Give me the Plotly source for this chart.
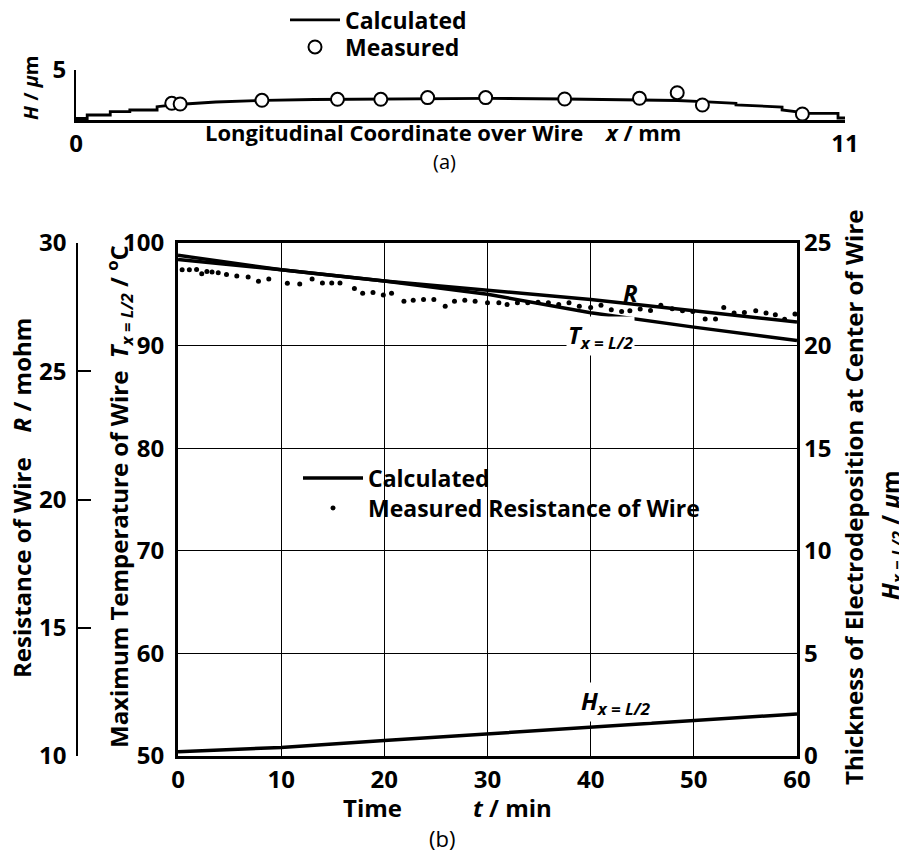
import plotly.graph_objects as go

W, HH = 899, 853


def px(x):
    return x / W


def py(y):
    return 1 - y / HH


FONT = "Open Sans"

# ---------------- panel (a) data ----------------
a_calc_x = [0, 0.16, 0.16, 0.49, 0.49, 0.77, 0.77, 1.16, 1.16, 1.45, 2.0, 2.7, 3.4, 4.4,
            5.0, 5.9, 7.0, 8.0, 8.6, 8.96, 9.2, 9.44, 9.44, 10.1, 10.1, 10.49, 10.9, 10.9, 11]
a_calc_h = [0.15, 0.15, 0.5, 0.5, 0.83, 0.83, 1.0, 1.0, 1.33, 1.55, 1.8, 1.97, 2.05, 2.1,
            2.17, 2.17, 2.1, 2.05, 1.95, 1.83, 1.75, 1.67, 1.5, 1.3, 1.0, 0.67, 0.67, 0.2, 0.2]
a_meas_x = [1.37, 1.49, 2.66, 3.74, 4.36, 5.03, 5.86, 6.99, 8.06, 8.6, 8.96, 10.39]
a_meas_h = [1.67, 1.6, 1.97, 2.07, 2.07, 2.24, 2.24, 2.1, 2.17, 2.73, 1.5, 0.6]

# ---------------- panel (b) data ----------------
t_calc = [0, 10, 20, 30, 40, 50, 60]
T_calc = [98.8, 97.4, 96.3, 95.0, 93.2, 91.8, 90.5]          # deg C
R_calc = [29.36, 28.96, 28.52, 28.16, 27.8, 27.36, 26.92]     # mohm
H_calc = [0.21, 0.42, 0.75, 1.07, 1.38, 1.70, 2.05]           # um

t_meas = [0.4, 1.1, 1.8, 2.3, 2.8, 3.3, 3.9, 4.7, 5.7, 6.8, 7.8, 8.8, 10.6, 11.8, 13.0,
          14.0, 14.9, 15.7, 17.1, 17.9, 18.9, 19.9, 20.7, 21.9, 22.8, 23.8, 24.8, 25.9,
          26.8, 27.8, 28.8, 30.0, 31.1, 31.9, 32.9, 33.9, 34.9, 35.9, 36.9, 37.9, 38.9,
          40.0, 41.0, 42.0, 43.0, 43.8, 44.8, 45.8, 46.8, 47.9, 48.9, 49.9, 51.1, 52.1,
          52.9, 53.9, 54.9, 56.0, 57.0, 57.9, 58.8, 59.8]
R_meas = [28.96, 28.96, 28.97, 28.8, 28.89, 28.87, 28.84, 28.77, 28.71, 28.67, 28.51,
          28.6, 28.43, 28.4, 28.6, 28.44, 28.44, 28.44, 28.23, 28.04, 28.07, 27.97, 28.04,
          27.73, 27.77, 27.8, 27.8, 27.53, 27.73, 27.77, 27.73, 27.67, 27.67, 27.6, 27.67,
          27.67, 27.69, 27.67, 27.6, 27.67, 27.53, 27.49, 27.57, 27.4, 27.33, 27.36, 27.43,
          27.37, 27.57, 27.44, 27.36, 27.33, 27.04, 27.04, 27.49, 27.27, 27.29, 27.36,
          27.27, 27.2, 27.03, 27.23]

b_xticks = [0, 10, 20, 30, 40, 50, 60]
T_ticks = [50, 60, 70, 80, 90, 100]
R_ticks = [10, 15, 20, 25, 30]
H_ticks = [0, 5, 10, 15, 20, 25]

FS = 24

fig = go.Figure()

# (a)
fig.add_trace(go.Scatter(x=a_calc_x, y=a_calc_h, mode="lines", name="Calculated",
                         line=dict(color="black", width=2.8), xaxis="x2", yaxis="y2",
                         legend="legend"))
fig.add_trace(go.Scatter(x=a_meas_x, y=a_meas_h, mode="markers", name="Measured",
                         marker=dict(symbol="circle", size=13, color="white",
                                     line=dict(color="black", width=2)),
                         xaxis="x2", yaxis="y2", legend="legend3"))

# (b)
fig.add_trace(go.Scatter(x=t_calc, y=R_calc, mode="lines", name="Calculated",
                         line=dict(color="black", width=3.5), xaxis="x", yaxis="y3",
                         legend="legend2"))
fig.add_trace(go.Scatter(x=t_calc, y=T_calc, mode="lines", name="Calculated",
                         line=dict(color="black", width=3.5), xaxis="x", yaxis="y",
                         showlegend=False))
fig.add_trace(go.Scatter(x=t_calc, y=H_calc, mode="lines", name="Calculated",
                         line=dict(color="black", width=3.5), xaxis="x", yaxis="y4",
                         showlegend=False))
fig.add_trace(go.Scatter(x=t_meas, y=R_meas, mode="markers",
                         name="Measured Resistance of Wire",
                         marker=dict(symbol="circle", size=5, color="black"),
                         xaxis="x", yaxis="y3", legend="legend4"))

bfont = dict(family=FONT, size=FS, color="black", weight="bold")
lfont = dict(family=FONT, size=FS - 1, color="black", weight="bold")


def leg(x, y, itemwidth=30):
    return dict(x=px(x), y=py(y), xanchor="left", yanchor="middle", font=lfont,
                bgcolor="rgba(0,0,0,0)", tracegroupgap=0, itemwidth=itemwidth,
                borderwidth=0)


fig.update_layout(
    width=W, height=HH, margin=dict(l=0, r=0, t=0, b=0, autoexpand=False),
    paper_bgcolor="white", plot_bgcolor="rgba(0,0,0,0)",
    font=dict(family=FONT, color="black"),
    showlegend=True,
    # panel (b) axes
    xaxis=dict(domain=[px(178), px(797)], range=[0, 60], tickvals=b_xticks,
               showgrid=True, gridcolor="black", gridwidth=1.2, zeroline=False,
               showline=True, linecolor="black", linewidth=3, mirror=True,
               ticks="", tickfont=bfont, anchor="y", automargin=False),
    yaxis=dict(domain=[py(756), py(243)], range=[50, 100], tickvals=T_ticks,
               showgrid=True, gridcolor="black", gridwidth=1.2, zeroline=False,
               showline=True, linecolor="black", linewidth=3, mirror=True,
               ticks="", tickfont=bfont, anchor="x", automargin=False,
               ticklabelstandoff=6),
    yaxis3=dict(overlaying="y", side="left", anchor="free", position=px(77),
                range=[10, 30], tickvals=R_ticks, showgrid=False, zeroline=False,
                showline=True, linecolor="black", linewidth=1.5,
                ticks="inside", ticklen=13, tickwidth=1.5, tickcolor="black",
                tickfont=bfont, automargin=False, ticklabelstandoff=5),
    yaxis4=dict(overlaying="y", side="right", anchor="x", range=[0, 25],
                tickvals=H_ticks, showgrid=False, zeroline=False, showline=False,
                ticks="", tickfont=bfont, automargin=False, ticklabelstandoff=6),
    # panel (a) axes
    xaxis2=dict(domain=[px(76), px(845)], range=[0, 11], tickvals=[0, 11],
                showgrid=False, zeroline=False, showline=True, linecolor="black",
                linewidth=3, ticks="", tickfont=bfont, anchor="y2", automargin=False),
    yaxis2=dict(domain=[py(120), py(70)], range=[0, 5], tickvals=[5],
                showgrid=False, zeroline=False, showline=True, linecolor="black",
                linewidth=2, ticks="inside", ticklen=13, tickwidth=2, tickcolor="black",
                tickfont=bfont, anchor="x2", automargin=False, ticklabelstandoff=3),
    legend=leg(285, 20, 50),
    legend3=leg(285, 47, 50),
    legend2=leg(298, 478, 60),
    legend4=leg(298, 508, 60),
)

ann = []


def add_text(text, x, y, size=FS, angle=0, bold=True, bg=None, xref="paper", yref="paper"):
    d = dict(text=text, x=x, y=y, xref=xref, yref=yref, showarrow=False,
             xanchor="center", yanchor="middle", textangle=angle,
             font=dict(family=FONT, size=size, color="black",
                       weight="bold" if bold else "normal"))
    if bg:
        d["bgcolor"] = bg
    ann.append(d)


# panel (a) texts
add_text("Longitudinal Coordinate over Wire    <i>x</i> / mm", px(443), py(132), size=22)
add_text("(a)", px(444), py(161), size=20, bold=False)
add_text("<i>H</i> / <i>μ</i>m", px(31), py(88), size=20, angle=-90)

# panel (b) texts
add_text("Time", px(372), py(807))
add_text("<i>t</i> / min", px(512), py(807))
add_text("(b)", px(442), py(838), size=22, bold=False)
add_text("Resistance of Wire    <i>R</i> / mohm", px(21), py(498), angle=-90)
add_text("Maximum Temperature of Wire  <i>T</i><sub><i>x = L/2</i></sub> / <sup>o</sup>C",
         px(119), py(497), angle=-90)
add_text("Thickness of Electrodeposition at Center of Wire", px(853), py(497), angle=-90)
add_text("<i>H</i><sub><i>x = L/2</i></sub> / <i>μ</i>m", px(891), py(535), angle=-90)

# curve labels (data coordinates)
add_text("<i>R</i>", 43.9, 95.2, xref="x", yref="y")
add_text("<i>T</i><sub><i>x = L/2</i></sub>", 41.0, 90.9, xref="x", yref="y",
         bg="white")
add_text("<i>H</i><sub><i>x = L/2</i></sub>", 42.4, 55.3, xref="x", yref="y",
         bg="white")

fig.update_layout(annotations=ann)

fig.write_html("out.html")
